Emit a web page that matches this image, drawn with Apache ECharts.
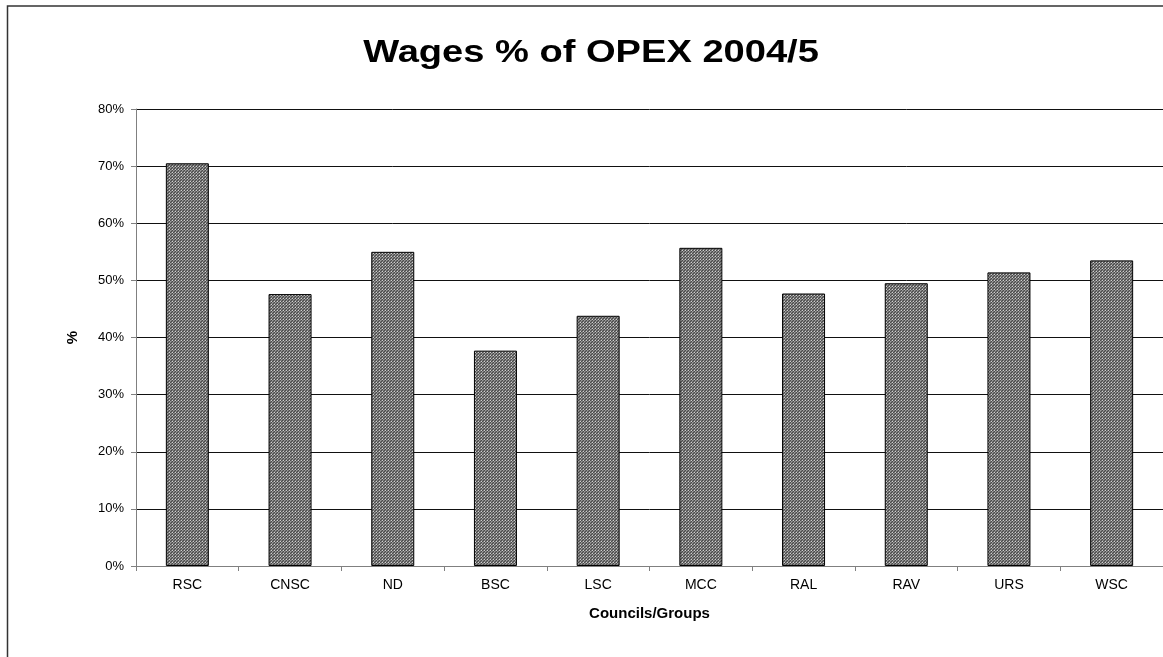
<!DOCTYPE html>
<html>
<head>
<meta charset="utf-8">
<title>Wages % of OPEX 2004/5</title>
<script src="https://cdn.jsdelivr.net/npm/echarts@6/dist/echarts.min.js"></script>
<style>
  html, body { margin: 0; padding: 0; background: #fff; }
  #chart { width: 1163px; height: 657px; }
</style>
</head>
<body>
<div id="chart"></div>
<script>
// Councils / groups along the category axis
const categories = ['RSC', 'CNSC', 'ND', 'BSC', 'LSC', 'MCC', 'RAL', 'RAV', 'URS', 'WSC'];
// Wages as a percentage of operating expenditure
const wagesPct = [70.5, 47.6, 55.0, 37.7, 43.8, 55.7, 47.7, 49.5, 51.4, 53.5];
// Value axis ticks (percent)
const yTicks = [0, 10, 20, 30, 40, 50, 60, 70, 80];

// Small dotted fill tile for the bars
function makeDotTile() {
  const c = document.createElement('canvas');
  c.width = 3; c.height = 3;
  const ctx = c.getContext('2d');
  ctx.fillStyle = '#7c7c7c';
  ctx.fillRect(0, 0, 3, 3);
  ctx.fillStyle = '#4a4a4a';
  ctx.fillRect(0, 0, 1, 1);
  ctx.fillRect(2, 1, 1, 1);
  ctx.fillRect(1, 2, 1, 1);
  ctx.fillStyle = '#d0d0d0';
  ctx.fillRect(1, 1, 1, 1);
  ctx.fillStyle = '#9c9c9c';
  ctx.fillRect(2, 2, 1, 1);
  return c;
}

const chart = echarts.init(document.getElementById('chart'), null, { renderer: 'canvas' });

const font = '"Liberation Sans", Arial, sans-serif';

chart.setOption({
  animation: false,
  backgroundColor: '#ffffff',
  graphic: [
    {
      type: 'rect',
      silent: true,
      shape: { x: 7.5, y: 6, width: 2000, height: 2000 },
      style: { fill: 'none', stroke: '#333333', lineWidth: 1.5 },
      z: 0
    },
    {
      type: 'text',
      silent: true,
      x: 591,
      y: 53,
      scaleX: 1.19,
      style: {
        text: 'Wages % of OPEX 2004/5',
        font: 'bold 32px ' + font,
        fill: '#000000',
        align: 'center',
        verticalAlign: 'middle'
      }
    }
  ],
  grid: { left: 136, top: 109, width: 1034, height: 457, containLabel: false },
  xAxis: {
    type: 'category',
    data: categories,
    name: 'Councils/Groups',
    nameLocation: 'middle',
    nameGap: 40,
    nameTextStyle: { fontFamily: font, fontWeight: 'bold', fontSize: 15, color: '#000' },
    axisLine: { lineStyle: { color: '#808080', width: 1 } },
    axisTick: { show: true, length: 5, alignWithLabel: false, lineStyle: { color: '#808080' } },
    axisLabel: { fontFamily: font, fontSize: 14, color: '#000', margin: 12 }
  },
  yAxis: {
    type: 'value',
    min: yTicks[0],
    max: yTicks[yTicks.length - 1],
    interval: yTicks[1] - yTicks[0],
    name: '%',
    nameLocation: 'middle',
    nameGap: 56,
    nameRotate: 90,
    nameTextStyle: { fontFamily: font, fontWeight: 'bold', fontSize: 15, color: '#000' },
    axisLine: { show: true, lineStyle: { color: '#808080', width: 1 } },
    axisTick: { show: true, length: 5, lineStyle: { color: '#808080' } },
    axisLabel: { fontFamily: font, fontSize: 13, color: '#000', margin: 12, formatter: '{value}%' },
    splitLine: { show: true, lineStyle: { color: '#111111', width: 1 } }
  },
  series: [{
    type: 'bar',
    data: wagesPct,
    barWidth: 43,
    itemStyle: {
      color: { image: makeDotTile(), repeat: 'repeat' },
      borderColor: '#000000',
      borderWidth: 1
    }
  }]
});
</script>
</body>
</html>
